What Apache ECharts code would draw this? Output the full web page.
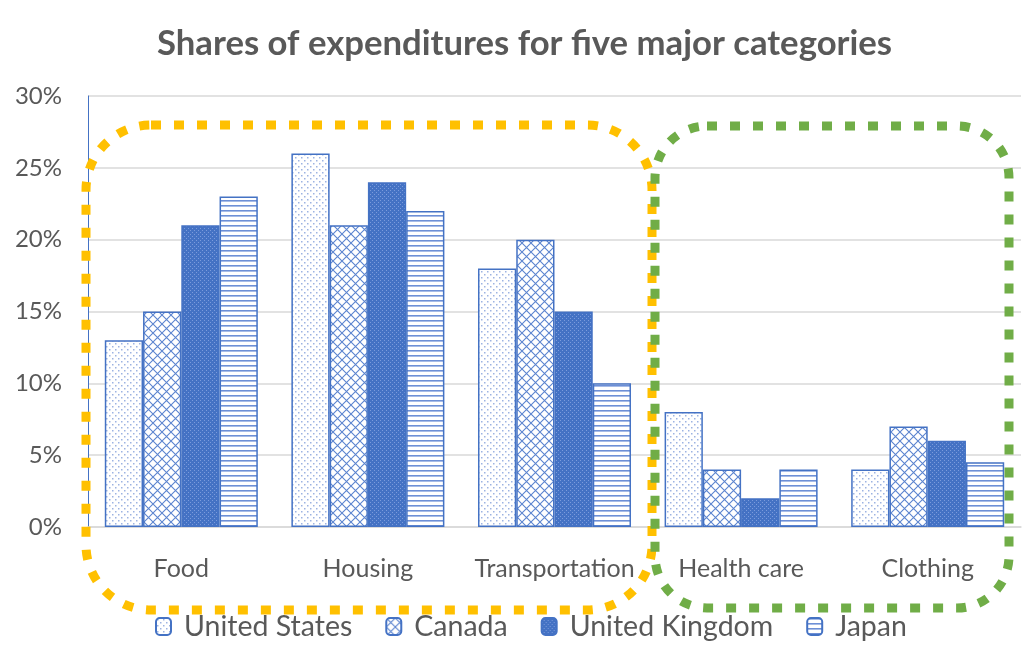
<!DOCTYPE html>
<html><head><meta charset="utf-8">
<script src="https://cdn.jsdelivr.net/npm/echarts@6/dist/echarts.min.js"></script>
<style>html,body{margin:0;padding:0;background:#fff}#c{width:1024px;height:667px}</style>
</head><body><div id="c"></div>
<script>
const categories = ['Food', 'Housing', 'Transportation', 'Health care', 'Clothing'];
const unitedStates = [13, 26, 18, 8, 4];
const canada = [15, 21, 20, 4, 7];
const unitedKingdom = [21, 24, 15, 2, 6];
const japan = [23, 22, 10, 4, 4.5];
const seriesNames = ['United States', 'Canada', 'United Kingdom', 'Japan'];
const yTicks = [0, 5, 10, 15, 20, 25, 30];

const BLUE = '#4472C4';
function pat(kind) {
  const c = document.createElement('canvas');
  const g = c.getContext('2d');
  if (kind === 'dots') {
    c.width = 6; c.height = 6;
    g.fillStyle = '#fff'; g.fillRect(0, 0, 6, 6);
    g.fillStyle = '#9DB3E2';
    g.fillRect(1, 1, 1.5, 1.5); g.fillRect(4, 4, 1.5, 1.5);
  } else if (kind === 'cross') {
    c.width = 9; c.height = 9;
    g.fillStyle = '#fff'; g.fillRect(0, 0, 9, 9);
    g.strokeStyle = '#5B84CF'; g.lineWidth = 1.1;
    g.beginPath();
    g.moveTo(0, 0); g.lineTo(9, 9);
    g.moveTo(9, 0); g.lineTo(0, 9);
    g.stroke();
  } else if (kind === 'check') {
    c.width = 4; c.height = 4;
    g.fillStyle = BLUE; g.fillRect(0, 0, 4, 4);
    g.fillStyle = '#7B9BDC';
    g.fillRect(0, 0, 1, 1); g.fillRect(2, 2, 1, 1);
  } else {
    c.width = 4; c.height = 5;
    g.fillStyle = '#fff'; g.fillRect(0, 0, 4, 5);
    g.fillStyle = '#6D8FD6'; g.fillRect(0, 0, 4, 1.6);
  }
  return { image: c, repeat: 'repeat' };
}
const patterns = [pat('dots'), pat('cross'), pat('check'), pat('lines')];
const dataSets = [unitedStates, canada, unitedKingdom, japan];

const chart = echarts.init(document.getElementById('c'), null, { renderer: 'canvas' });
const FONT = 'Lato';
chart.setOption({
  animation: false,
  title: {
    text: 'Shares of expenditures for five major categories',
    left: 152, top: 21,
    textStyle: { fontFamily: FONT, fontWeight: 'bold', fontSize: 34.7, color: '#595959' }
  },
  legend: {
    data: seriesNames, bottom: 21, left: 150,
    itemWidth: 15, itemHeight: 17, itemGap: 33,
    textStyle: { fontFamily: FONT, fontSize: 28.5, color: '#595959', padding: [0, 0, 0, 8] }
  },
  grid: { left: 88, right: 3, top: 96, bottom: 140 },
  xAxis: {
    type: 'category', data: categories,
    axisLine: { lineStyle: { color: '#D9D9D9', width: 1.5 } },
    axisTick: { show: false },
    axisLabel: { interval: 0, fontFamily: FONT, fontSize: 25, color: '#595959', margin: 29 }
  },
  yAxis: {
    type: 'value', min: 0, max: 30, interval: 5,
    axisLine: { show: true, lineStyle: { color: BLUE, width: 1 } },
    axisTick: { show: false },
    splitLine: { lineStyle: { color: '#D9D9D9', width: 1.5 } },
    axisLabel: {
      fontFamily: FONT, fontSize: 24, color: '#595959', margin: 26,
      formatter: v => (yTicks.includes(v) ? v + '%' : '')
    }
  },
  series: seriesNames.map((n, i) => ({
    name: n, type: 'bar', data: dataSets[i],
    barGap: '0%', barCategoryGap: '18%',
    itemStyle: { color: patterns[i], borderColor: BLUE, borderWidth: 1.5 }
  })),
  graphic: [
    { type: 'rect', z: 100, shape: { x: 86, y: 125, width: 566, height: 485, r: 65 },
      style: { fill: 'none', stroke: '#FFC000', lineWidth: 9, lineDash: [10, 13] } },
    { type: 'rect', z: 101, shape: { x: 655, y: 126, width: 354, height: 482, r: 52 },
      style: { fill: 'none', stroke: '#70AD47', lineWidth: 9, lineDash: [10, 13] } }
  ]
});
</script></body></html>
